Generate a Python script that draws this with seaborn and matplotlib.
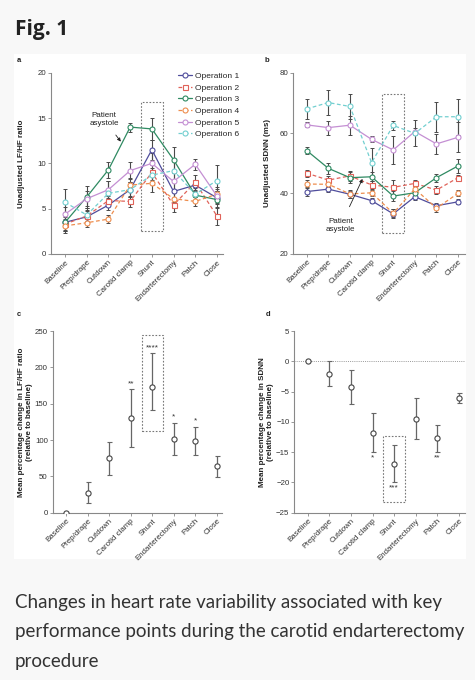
import numpy as np
import pandas as pd
import matplotlib
matplotlib.use("Agg")
import matplotlib.pyplot as plt
from matplotlib.patches import Rectangle
import seaborn as sns

sns.set_style("ticks")
plt.rcParams['font.family'] = ['Liberation Sans', 'DejaVu Sans']

# stages of the procedure
stages = ['Baseline', 'Prep/drape', 'Cutdown', 'Carotid clamp', 'Shunt',
          'Endarterectomy', 'Patch', 'Close']
operations = ['Operation 1', 'Operation 2', 'Operation 3',
              'Operation 4', 'Operation 5', 'Operation 6']

# panel a - unadjusted LF/HF ratio per operation
lfhf_op1 = [3.5, 4.1, 5.4, 7.1, 11.5, 6.9, 7.6, 6.2]
lfhf_op2 = [3.3, 4.2, 5.9, 5.8, 9.0, 5.4, 7.9, 4.2]
lfhf_op3 = [3.5, 6.3, 9.3, 14.0, 13.8, 10.4, 6.5, 6.0]
lfhf_op4 = [3.1, 3.45, 3.85, 7.6, 7.8, 6.1, 5.8, 6.6]
lfhf_op5 = [4.4, 6.1, 7.1, 9.2, 10.0, 8.0, 9.9, 6.4]
lfhf_op6 = [5.7, 4.3, 6.7, 7.1, 8.7, 9.2, 6.6, 8.1]
lfhf_err_op1 = [1.0, 0.6, 0.6, 0.8, 1.1, 1.2, 0.6, 0.7]
lfhf_err_op2 = [0.8, 0.6, 0.5, 0.6, 0.8, 0.8, 0.8, 1.0]
lfhf_err_op3 = [0.8, 1.2, 0.9, 0.5, 1.2, 1.4, 0.8, 0.9]
lfhf_err_op4 = [0.8, 0.5, 0.4, 0.8, 1.0, 0.7, 0.5, 0.8]
lfhf_err_op5 = [0.8, 0.8, 0.9, 0.9, 1.1, 0.9, 0.6, 0.8]
lfhf_err_op6 = [1.5, 0.8, 1.3, 0.8, 0.8, 1.2, 0.8, 1.7]

# panel b - unadjusted SDNN (ms) per operation
sdnn_op1 = [40.6, 41.4, 39.7, 37.6, 33.2, 38.9, 35.9, 37.2]
sdnn_op2 = [46.7, 44.4, 45.8, 42.8, 42.0, 43.3, 41.1, 45.2]
sdnn_op3 = [54.2, 48.3, 45.2, 45.5, 39.1, 40.2, 45.2, 49.1]
sdnn_op4 = [43.1, 43.0, 39.8, 40.2, 33.4, 41.5, 35.1, 40.0]
sdnn_op5 = [62.7, 61.8, 62.6, 57.9, 54.4, 60.5, 56.4, 58.6]
sdnn_op6 = [68.0, 70.1, 68.8, 50.2, 62.5, 59.9, 65.4, 65.4]
sdnn_err_op1 = [1.6, 1.0, 1.2, 0.8, 1.5, 1.0, 1.0, 0.8]
sdnn_err_op2 = [1.2, 1.2, 1.6, 1.2, 2.5, 1.2, 1.2, 1.0]
sdnn_err_op3 = [1.3, 1.9, 1.8, 1.5, 1.6, 1.4, 1.3, 2.2]
sdnn_err_op4 = [1.2, 1.0, 1.2, 1.0, 1.3, 1.0, 1.3, 1.0]
sdnn_err_op5 = [0.8, 2.3, 3.2, 1.0, 4.7, 1.2, 3.2, 5.0]
sdnn_err_op6 = [3.3, 4.1, 4.0, 5.0, 1.6, 4.3, 5.0, 6.0]

# panel c - mean percentage change in LF/HF ratio
lfhf_pct = [0, 26.7, 74.8, 129.8, 172.5, 101.0, 98.6, 64.7]
lfhf_pct_lo = [0, 13.0, 52.0, 90.0, 141.3, 79.4, 79.4, 49.5]
lfhf_pct_hi = [0, 42.7, 97.7, 169.8, 219.3, 123.9, 118.3, 78.4]
lfhf_stars = ['', '', '', '**', '****', '*', '*', '']

# panel d - mean percentage change in SDNN
sdnn_pct = [0, -2.1, -4.3, -11.8, -17.0, -9.6, -12.7, -6.1]
sdnn_pct_lo = [0, -4.0, -7.0, -14.9, -20.0, -12.8, -14.9, -6.9]
sdnn_pct_hi = [0, 0.0, -1.5, -8.6, -13.9, -6.0, -10.6, -5.2]
sdnn_stars = ['', '', '', '*', '***', '', '**', '']

colors = {'Operation 1': '#4f4d9c', 'Operation 2': '#e0635a',
          'Operation 3': '#2f8a62', 'Operation 4': '#ee8d4d',
          'Operation 5': '#c48fd3', 'Operation 6': '#72cfd0'}
dashes = {'Operation 1': '', 'Operation 2': (3, 2), 'Operation 3': '',
          'Operation 4': (3, 2), 'Operation 5': '', 'Operation 6': (3, 2)}
markers = {'Operation 1': 'o', 'Operation 2': 's', 'Operation 3': 'o',
           'Operation 4': 'o', 'Operation 5': 'o', 'Operation 6': 'o'}

lfhf_vals = [lfhf_op1, lfhf_op2, lfhf_op3, lfhf_op4, lfhf_op5, lfhf_op6]
lfhf_errs = [lfhf_err_op1, lfhf_err_op2, lfhf_err_op3, lfhf_err_op4, lfhf_err_op5, lfhf_err_op6]
sdnn_vals = [sdnn_op1, sdnn_op2, sdnn_op3, sdnn_op4, sdnn_op5, sdnn_op6]
sdnn_errs = [sdnn_err_op1, sdnn_err_op2, sdnn_err_op3, sdnn_err_op4, sdnn_err_op5, sdnn_err_op6]


def long_table(vals, errs):
    rows = []
    for op, v, e in zip(operations, vals, errs):
        for i, (y, err) in enumerate(zip(v, e)):
            rows.append({'stage': i, 'value': y, 'err': err, 'op': op})
    return pd.DataFrame(rows)


lfhf_df = long_table(lfhf_vals, lfhf_errs)
sdnn_df = long_table(sdnn_vals, sdnn_errs)

W, H = 475, 680
fig = plt.figure(figsize=(W / 100, H / 100), dpi=100, facecolor='#f8f8f8')
fig.patches.append(Rectangle((14 / W, 1 - 559 / H), 452 / W, 505 / H,
                             transform=fig.transFigure, facecolor='white',
                             edgecolor='none', zorder=-10))

def fig_ax(left, top, right, bottom):
    ax = fig.add_axes([left / W, 1 - bottom / H, (right - left) / W, (bottom - top) / H])
    ax.set_zorder(5)
    return ax

ax_a = fig_ax(51, 72.7, 223, 254)
ax_b = fig_ax(293.3, 72.7, 465, 253.7)
ax_c = fig_ax(52.7, 331, 222, 512.7)
ax_d = fig_ax(294.3, 331, 465, 512.7)

tick_color = '#333333'
spine_color = '#888888'


def style_axis(ax, xlim):
    ax.set_facecolor('none')
    sns.despine(ax=ax)
    for s in ['left', 'bottom']:
        ax.spines[s].set_color(spine_color)
        ax.spines[s].set_linewidth(0.8)
    ax.set_xlim(*xlim)
    ax.set_xticks(range(len(stages)))
    ax.set_xticklabels(stages, rotation=45, ha='right', rotation_mode='anchor')
    ax.tick_params(axis='both', labelsize=5.7, colors=tick_color, length=2,
                   width=0.6, pad=1.5)
    ax.tick_params(axis='both', color=spine_color)
    ax.set_xlabel('')


def box(ax, x0, x1, y0, y1):
    ax.add_patch(Rectangle((x0, y0), x1 - x0, y1 - y0, fill=False,
                           edgecolor='#777777', linestyle=(0, (1.5, 1.5)),
                           linewidth=0.8, zorder=1))


def operation_panel(ax, df):
    for op in operations:
        sub = df[df['op'] == op]
        ax.errorbar(sub['stage'], sub['value'], yerr=sub['err'], fmt='none',
                    ecolor='#4a4a4a', elinewidth=0.8, capsize=1.6,
                    capthick=0.7, zorder=2)
    sns.lineplot(data=df, x='stage', y='value', hue='op', style='op',
                 palette=colors, dashes=dashes, markers=markers,
                 markerfacecolor='white', markersize=3.6, markeredgewidth=0.8,
                 linewidth=0.9, legend=False, ax=ax, zorder=3)
    series = ax.get_lines()[-len(operations):]
    for line in series:
        line.set_markeredgecolor(line.get_color())
        line.set_markerfacecolor('white')
    ax.set_ylabel('')
    return series


label_kw = dict(fontsize=5.8, fontweight='bold', color='#222222')

# panel a
handles = operation_panel(ax_a, lfhf_df)
style_axis(ax_a, (-0.65, 7.28))
ax_a.set_ylim(0, 20)
ax_a.set_yticks([0, 5, 10, 15, 20])
ax_a.set_ylabel('Unadjusted LF/HF ratio', **label_kw)
ax_a.yaxis.set_label_coords(-0.153, 0.5)
box(ax_a, 3.5, 4.5, 2.5, 16.8)
ax_a.annotate('Patient\nasystole', xy=(2.57, 12.4), xytext=(1.8, 14.8),
              fontsize=5.8, ha='center', va='center', color='#222222',
              arrowprops=dict(arrowstyle='-|>', color='#222222', lw=0.6,
                              mutation_scale=5, shrinkA=4, shrinkB=0))
ax_a.legend(handles, operations, loc='upper left', bbox_to_anchor=(0.72, 1.02),
            frameon=False, fontsize=6, handlelength=1.6, labelspacing=0.45,
            handletextpad=0.4, borderaxespad=0)

# panel b
operation_panel(ax_b, sdnn_df)
style_axis(ax_b, (-0.62, 7.32))
ax_b.set_ylim(20, 80)
ax_b.set_yticks([20, 40, 60, 80])
ax_b.set_ylabel('Unadjusted SDNN (ms)', **label_kw)
ax_b.yaxis.set_label_coords(-0.132, 0.5)
box(ax_b, 3.5, 4.5, 26.8, 72.9)
ax_b.annotate('Patient\nasystole', xy=(2.58, 44.8), xytext=(1.58, 29.5),
              fontsize=5.8, ha='center', va='center', color='#222222',
              arrowprops=dict(arrowstyle='-|>', color='#222222', lw=0.6,
                              mutation_scale=5, shrinkA=6, shrinkB=0))


def summary_panel(ax, mean, lo, hi):
    mean = np.array(mean)
    yerr = [mean - np.array(lo), np.array(hi) - mean]
    ax.errorbar(range(len(stages)), mean, yerr=yerr, fmt='none',
                ecolor='#666666', elinewidth=0.9, capsize=1.8, capthick=0.8,
                zorder=2)
    sns.scatterplot(x=range(len(stages)), y=mean, marker='o', s=14,
                    facecolor='white', edgecolor='#444444', linewidth=0.8,
                    ax=ax, zorder=3)


# panel c
summary_panel(ax_c, lfhf_pct, lfhf_pct_lo, lfhf_pct_hi)
style_axis(ax_c, (-0.62, 7.23))
ax_c.set_ylim(0, 250)
ax_c.set_yticks(range(0, 251, 50))
ax_c.set_ylabel('Mean percentage change in LF/HF ratio\n(relative to baseline)', **label_kw)
ax_c.yaxis.set_label_coords(-0.118, 0.5)
for i, s in enumerate(lfhf_stars):
    if s:
        ax_c.text(i, lfhf_pct_hi[i] + 3, s, ha='center', va='bottom',
                  fontsize=6, color='#333333')
box(ax_c, 3.5, 4.5, 112.8, 244.5)

# panel d
summary_panel(ax_d, sdnn_pct, sdnn_pct_lo, sdnn_pct_hi)
style_axis(ax_d, (-0.62, 7.28))
ax_d.set_ylim(-25, 5)
ax_d.set_yticks(range(-25, 6, 5))
ax_d.axhline(0, color='#999999', linestyle=(0, (1, 1.2)), linewidth=0.7, zorder=1)
ax_d.set_ylabel('Mean percentage change in SDNN\n(relative to baseline)', **label_kw)
ax_d.yaxis.set_label_coords(-0.120, 0.5)
for i, s in enumerate(sdnn_stars):
    if s:
        ax_d.text(i, sdnn_pct_lo[i] - 0.4, s, ha='center', va='top',
                  fontsize=6, color='#333333')
box(ax_d, 3.5, 4.5, -23.2, -12.3)

# panel letters
for x, y, letter in [(17, 60, 'a'), (265, 60, 'b'), (17, 315, 'c'), (266, 315, 'd')]:
    fig.text(x / W, 1 - y / H, letter, fontsize=5.5, fontweight='bold',
             ha='left', va='center', color='#222222')

# title and caption
fig.text(15 / W, 1 - 19 / H, 'Fig. 1', fontsize=15, fontweight='bold',
         family=['Open Sans', 'DejaVu Sans'], ha='left', va='top', color='#222222')
caption = ['Changes in heart rate variability associated with key',
           'performance points during the carotid endarterectomy',
           'procedure']
for line, base in zip(caption, [608.3, 637.3, 666.7]):
    fig.text(15 / W, 1 - base / H, line, fontsize=13.5, family=['Lato', 'DejaVu Sans'],
             ha='left', va='baseline', color='#333333')

fig.savefig('out.png', dpi=100, facecolor=fig.get_facecolor())
